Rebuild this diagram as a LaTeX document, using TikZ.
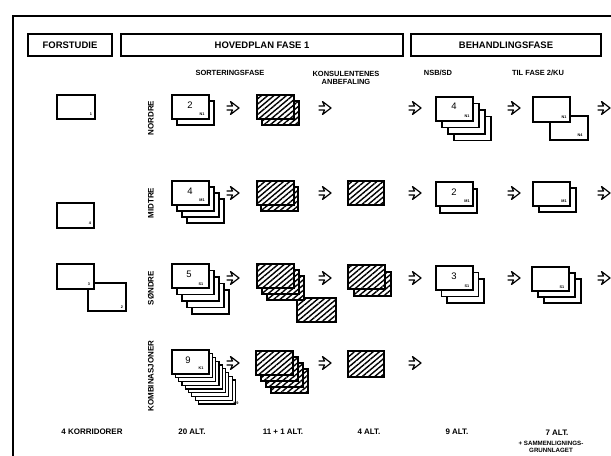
\documentclass[tikz,border=0pt]{standalone}
\usepackage{fontspec}
\setmainfont{Liberation Sans}
\usetikzlibrary{patterns.meta}
\newcommand\cstack[6]{\foreach \i in {#3,...,0}{\draw[#6] ({#1+\i*(#4)},{#2+\i*(#5)}) rectangle ++(37,24);}}
\tikzset{harrow/.pic={\draw[line width=1.2bp, line join=round, line cap=round] (-6,-2) -- (-0.5,-2) .. controls (-1.5,-4) .. (-2.5,-6.5) -- (6,0) -- (-2.5,6.5) .. controls (-1.5,4) .. (-0.5,2) -- (-6,2);}}
\begin{document}
\begin{tikzpicture}[x=1bp,y=-1bp,
  card/.style={draw=black, line width=1.2bp, fill=white},
  hcard/.style={draw=black, line width=1.2bp, preaction={fill=white}, pattern={Lines[angle=40,distance=4bp,line width=1.4bp]}},
  hdr/.style={draw=black, line width=1.2bp, minimum height=22bp, inner sep=0pt, font=\fontsize{9.5}{10}\selectfont\bfseries},
  sub/.style={font=\fontsize{7.5}{8.5}\selectfont\bfseries, align=center, inner sep=0pt},
  rowlbl/.style={font=\fontsize{8}{9}\selectfont\bfseries, rotate=90, inner sep=0pt},
  big/.style={font=\fontsize{9.5}{9.5}\selectfont, inner sep=0pt},
  tiny/.style={font=\fontsize{3.8}{4}\selectfont\bfseries, inner sep=0pt},
  foot/.style={font=\fontsize{8}{8.5}\selectfont\bfseries, inner sep=0pt, align=center},
  foots/.style={font=\fontsize{6.2}{7}\selectfont\bfseries, inner sep=0pt, align=center}
]
\fill[white] (0,0) rectangle (611,456);
\useasboundingbox (0,0) rectangle (611,456);
% frame
\draw[line width=1.5bp] (13,456) -- (13,16) -- (611,16);
% headers
\node[hdr, minimum width=84bp] (fs) at (70,45) {FORSTUDIE};
\node[hdr, minimum width=282bp] (hp) at (262,45) {HOVEDPLAN FASE 1};
\node[hdr, minimum width=190bp] (bh) at (506,45) {BEHANDLINGSFASE};
% sub headers
\node[sub] (sf) at (230,73) {SORTERINGSFASE};
\node[sub] (ka) at (346,78) {KONSULENTENES\\ANBEFALING};
\node[sub] (ns) at (438,73) {NSB/SD};
\node[sub] (tf) at (538,73) {TIL FASE 2/KU};
% row labels
\node[rowlbl] (rn) at (151,118) {NORDRE};
\node[rowlbl] (rm) at (151,203) {MIDTRE};
\node[rowlbl] (rs) at (151,288) {SØNDRE};
\node[rowlbl] (rk) at (151,376) {KOMBINASJONER};

% ---------- forstudie
\draw[card] (57,95) rectangle ++(38,24);
\node[tiny] (f1) at (91,114) {1};
\draw[card] (57,203) rectangle ++(37,25);
\node[tiny] (f4) at (90,223) {4};
\draw[card] (88,283) rectangle ++(38,28);
\draw[card] (57,264) rectangle ++(37,25);
\node[tiny] (f3) at (89,284) {3};
\node[tiny] (f2) at (122,307) {2};

% ---------- row 1 NORDRE
\cstack{172}{95}{1}{5}{6}{card}
\node[big] (n2) at (190,105) {2};
\node[tiny] (n2a) at (202,114) {N1};
\pic at (233,108) {harrow};
\cstack{257}{95}{1}{5}{6}{hcard}
\pic at (325,108) {harrow};
\pic at (415,108) {harrow};
\cstack{436}{97}{3}{6}{6.5}{card}
\node[big] (n4) at (454,106) {4};
\node[tiny] (n4a) at (467,116) {N1};
\pic at (514,108) {harrow};
\draw[card] (550,116) rectangle ++(38,24);
\draw[card] (533,97) rectangle ++(37,25);
\node[tiny] (t1) at (564,117) {N1};
\node[tiny] (t2) at (580,135) {N4};
\pic at (604,108) {harrow};

% ---------- row 2 MIDTRE
\cstack{172}{181}{3}{5}{6}{card}
\node[big] (m4) at (190,191) {4};
\node[tiny] (m4a) at (202,200) {M1};
\pic at (233,193) {harrow};
\cstack{257}{181}{1}{4}{6}{hcard}
\pic at (325,193) {harrow};
\draw[hcard] (348,181) rectangle ++(36,24);
\pic at (415,193) {harrow};
\cstack{436}{182}{1}{4}{7}{card}
\node[big] (m2) at (454,192) {2};
\node[tiny] (m2a) at (467,201) {M1};
\pic at (514,193) {harrow};
\cstack{533}{182}{1}{6}{6}{card}
\node[tiny] (m3a) at (564,201) {M1};
\pic at (604,193) {harrow};

% ---------- row 3 SØNDRE
\cstack{172}{264}{4}{5}{6.5}{card}
\node[big] (s5) at (189,274) {5};
\node[tiny] (s5a) at (201,284) {S1};
\pic at (233,278) {harrow};
\draw[hcard] (297,298) rectangle ++(39,24);
\cstack{257}{264}{2}{5}{6}{hcard}
\pic at (325,278) {harrow};
\cstack{348}{265}{1}{6}{7}{hcard}
\pic at (415,278) {harrow};
\cstack{436}{266}{2}{5.5}{6.5}{card}
\node[big] (s3) at (454,276) {3};
\node[tiny] (s3a) at (467,286) {S1};
\pic at (514,278) {harrow};
\cstack{532}{267}{2}{6}{6}{card}
\node[tiny] (s4a) at (562,287) {S1};
\pic at (604,278) {harrow};

% ---------- row 4 KOMBINASJONER
\cstack{172}{350}{8}{3.3}{3.75}{card}
\node[big] (k9) at (188,360) {9};
\node[tiny] (k9a) at (201,368) {K1};
\node[tiny] (k9b) at (236,403) {K9};
\pic at (233,363) {harrow};
\cstack{256}{351}{3}{5}{6}{hcard}
\pic at (325,363) {harrow};
\draw[hcard] (348,351) rectangle ++(36,26);
\pic at (415,363) {harrow};

% ---------- footer
\node[foot] (b1) at (92,432) {4 KORRIDORER};
\node[foot] (b2) at (192,432) {20 ALT.};
\node[foot] (b3) at (283,432) {11 + 1 ALT.};
\node[foot] (b4) at (369,432) {4 ALT.};
\node[foot] (b5) at (457,432) {9 ALT.};
\node[foot] (b6) at (557,433) {7 ALT.};
\node[foots] (b7) at (551,447) {+ SAMMENLIGNINGS-\\GRUNNLAGET};
\end{tikzpicture}
\end{document}
